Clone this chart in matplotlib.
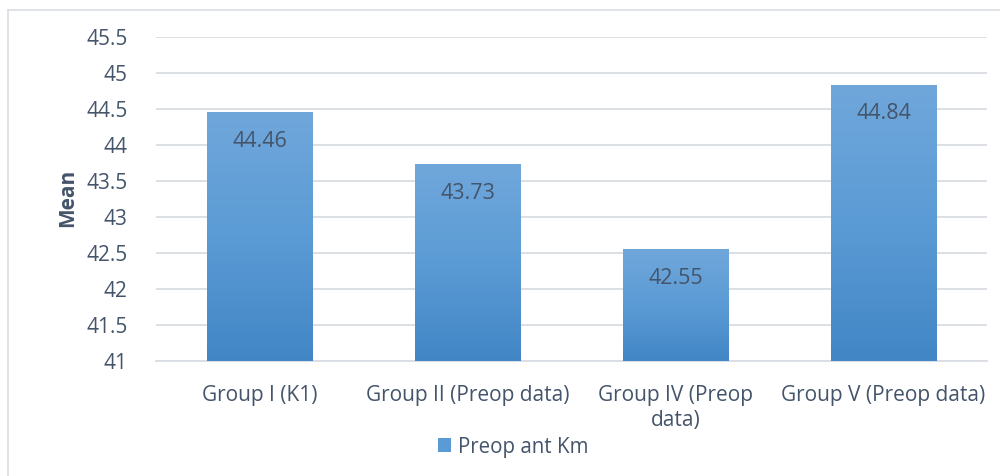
import numpy as np
import matplotlib
matplotlib.use("Agg")
import matplotlib.pyplot as plt
from matplotlib.colors import LinearSegmentedColormap
from matplotlib.lines import Line2D
from matplotlib.patches import Rectangle

categories = ["Group I (K1)", "Group II (Preop data)", "Group IV (Preop\ndata)", "Group V (Preop data)"]
values = [44.46, 43.73, 42.55, 44.84]
series_name = "Preop ant Km"
y_ticks = [41, 41.5, 42, 42.5, 43, 43.5, 44, 44.5, 45, 45.5]
y_tick_labels = ["41", "41.5", "42", "42.5", "43", "43.5", "44", "44.5", "45", "45.5"]

text_color = "#44546A"
grid_color = "#D9DDE3"
font = ["Open Sans", "DejaVu Sans"]
plt.rcParams["font.family"] = font

fig = plt.figure(figsize=(10, 4.76), dpi=100)
ax = fig.add_axes([0.1555, 0.2416, 0.832, 0.6807])

ymin, ymax = 41, 45.5
x = np.arange(len(categories))
width = 0.505
bars = ax.bar(x, [v - ymin for v in values], bottom=ymin, width=width,
              color="none", edgecolor="none", zorder=3)

# vertical gradient fill for each bar
grad_cmap = LinearSegmentedColormap.from_list("barfill", ["#4286C6", "#5B9BD5", "#70A7DB"])
for b in bars:
    x0, y0 = b.get_x(), b.get_y()
    w, h = b.get_width(), b.get_height()
    grad = np.linspace(0, 1, 256).reshape(-1, 1)
    im = ax.imshow(grad, cmap=grad_cmap, origin="lower", aspect="auto",
                   extent=(x0, x0 + w, y0, y0 + h), zorder=3, interpolation="bicubic")
    im.set_clip_path(b)

for xi, v in zip(x, values):
    ax.annotate(f"{v:.2f}", xy=(xi, v), xytext=(0, -21), textcoords="offset points",
                ha="center", va="center", fontsize=15.5, color=text_color, zorder=5)

ax.set_xlim(-0.5, len(categories) - 0.5)
ax.set_ylim(ymin, ymax)
ax.set_yticks(y_ticks)
ax.set_yticklabels(y_tick_labels)
ax.set_xticks(x)
ax.set_xticklabels(categories, linespacing=1.25)
ax.tick_params(axis="both", length=0, colors=text_color, labelsize=15)
ax.tick_params(axis="y", pad=20)
ax.tick_params(axis="x", pad=17)
ax.yaxis.grid(True, color=grid_color, linewidth=1.3, zorder=0)
ax.set_axisbelow(True)
for side in ["top", "right", "left"]:
    ax.spines[side].set_visible(False)
ax.spines["bottom"].set_color(grid_color)
ax.spines["bottom"].set_linewidth(1.3)

fig.text(0.068, 1 - 198 / 476, "Mean", rotation=90, ha="center", va="center",
         fontsize=15, fontweight="bold", color=text_color)

handle = Rectangle((0, 0), 1, 1, facecolor="#5B9BD5", edgecolor="none")
fig.legend([handle], [series_name], loc="center", bbox_to_anchor=(0.513, 1 - 447 / 476),
           frameon=False, fontsize=14.8, labelcolor=text_color, handlelength=0.65,
           handleheight=0.65, handletextpad=0.3)

# outer chart frame (top and left edges)
fig.add_artist(Line2D([0.008, 1.0], [1 - 10 / 476, 1 - 10 / 476], color=grid_color, linewidth=1.2))
fig.add_artist(Line2D([0.008, 0.008], [0, 1 - 10 / 476], color=grid_color, linewidth=1.2))

fig.savefig("out.png", dpi=100, facecolor="white")
